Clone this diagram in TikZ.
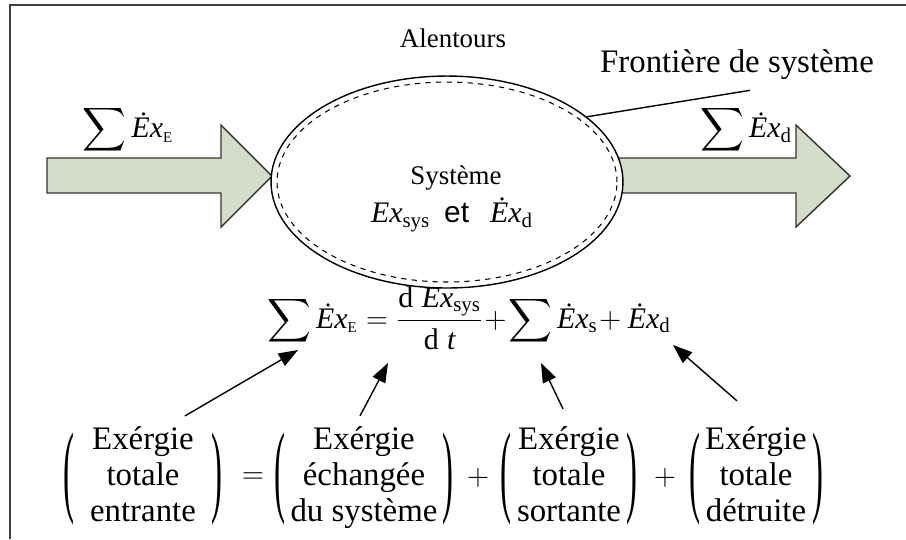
\documentclass[tikz,border=0pt]{standalone}
\usepackage{amsmath}
\usepackage{graphicx}
\usepackage{fontspec}
\setmainfont{Liberation Serif}
\newfontfamily\arialfont{Liberation Sans}
\usetikzlibrary{arrows.meta,calc,shapes.geometric}

\definecolor{flowgreen}{HTML}{D4DDC7}
\newcommand{\Ex}{\textit{Ex}}
\newcommand{\Exdot}{\textit{\.{E}x}}
\newcommand{\tallp}[1]{\raisebox{-0.54em}{\scalebox{1}[3.1]{#1}}}

\begin{document}
\begin{tikzpicture}[
  x=0.02cm, y=-0.02cm,
  frame/.style={draw=black!75, line width=1.1pt},
  flow/.style={draw=black!80, line width=0.8pt, fill=flowgreen},
  bound/.style={ellipse, draw, line width=0.8pt, inner sep=0pt},
  ptr/.style={-{Triangle[length=11pt,width=8pt]}, line width=0.8pt},
  lbl/.style={font=\fontsize{15.3}{18}\selectfont, inner sep=0pt},
  big/.style={font=\fontsize{18.7}{20.4}\selectfont, inner sep=0pt},
  mth/.style={font=\fontsize{17}{20}\selectfont, inner sep=0pt},
  grp/.style={big, align=center}
]
\useasboundingbox (0,0) rectangle (906,539);

% frame
\draw[frame] (10,539) -- (10,5) -- (906,5);

% in and out flows
\draw[flow] (47,158) -- (221,158) -- (221,125) -- (272,176) -- (221,227)
  -- (221,193) -- (47,193) -- cycle;
\draw[flow] (612,158) -- (796,158) -- (796,125) -- (850,176) -- (796,227)
  -- (796,193) -- (612,193) -- cycle;

% system
\node[bound, fill=white, minimum width=7.04cm, minimum height=4.24cm] (sys) at (447,182) {};
\node[bound, dashed, line width=0.6pt, minimum width=6.8cm, minimum height=4cm] (sysin) at (447,182) {};

\node[lbl] (env) at (453,38) {Alentours};
\node[big] (fr) at (737,65) {Frontière de système};
\draw[line width=0.8pt] ([shift={(13,10)}]fr.south) -- (sys.25);

\node[mth] (inlbl) at (128,130) {$\displaystyle\sum \Exdot_{\scriptscriptstyle\mathrm{E}}$};
\node[mth] (outlbl) at (746,130) {$\displaystyle\sum \Exdot_{\mathrm{d}}$};

\node[lbl] (systxt) at (456,178) {Système};
\node[mth] (sysvar) at (452,215) {$\Ex_{\mathrm{sys}}$\hspace{8pt}{\arialfont et}\hspace{12pt}$\Exdot_{\mathrm{d}}$};

% balance
\node[mth] (eqn) at (469,318) {$\displaystyle\sum \Exdot_{\scriptscriptstyle\mathrm{E}} = \frac{\mathrm{d}\;\Ex_{\mathrm{sys}}}{\mathrm{d}\;\textit{t}} \!+\! \sum \Exdot_{\mathrm{s}} \!+ \Exdot_{\mathrm{d}}$};
\coordinate (tipA) at (298,350);
\coordinate (tipB) at (388,363);
\coordinate (tipC) at (541,363);
\coordinate (tipD) at (673,345);

\node[grp] (g1) at (143,478) {\tallp{(}\begin{tabular}{@{\hspace{9pt}}c@{\hspace{9pt}}}Exérgie\\totale\\entrante\end{tabular}\tallp{)}};
\node[big] (eq) at (253,478) {$=$};
\node[grp] (g2) at (364,478) {\tallp{(}\begin{tabular}{@{\hspace{3pt}}c@{\hspace{3pt}}}Exérgie\\échangée\\du système\end{tabular}\tallp{)}};
\node[big] (p1) at (478,478) {$+$};
\node[grp] (g3) at (569,478) {\tallp{(}\begin{tabular}{@{\hspace{3pt}}c@{\hspace{3pt}}}Exérgie\\totale\\sortante\end{tabular}\tallp{)}};
\node[big] (p2) at (665,478) {$+$};
\node[grp] (g4) at (756,478) {\tallp{(}\begin{tabular}{@{\hspace{3pt}}c@{\hspace{3pt}}}Exérgie\\totale\\détruite\end{tabular}\tallp{)}};

\draw[ptr] ([shift={(42,-8)}]g1.north) -- (tipA);
\draw[ptr] ([shift={(-4,-8)}]g2.north) -- (tipB);
\draw[ptr] ([shift={(-6,-15)}]g3.north) -- (tipC);
\draw[ptr] ([shift={(-19,-23)}]g4.north) -- (tipD);

\end{tikzpicture}
\end{document}
